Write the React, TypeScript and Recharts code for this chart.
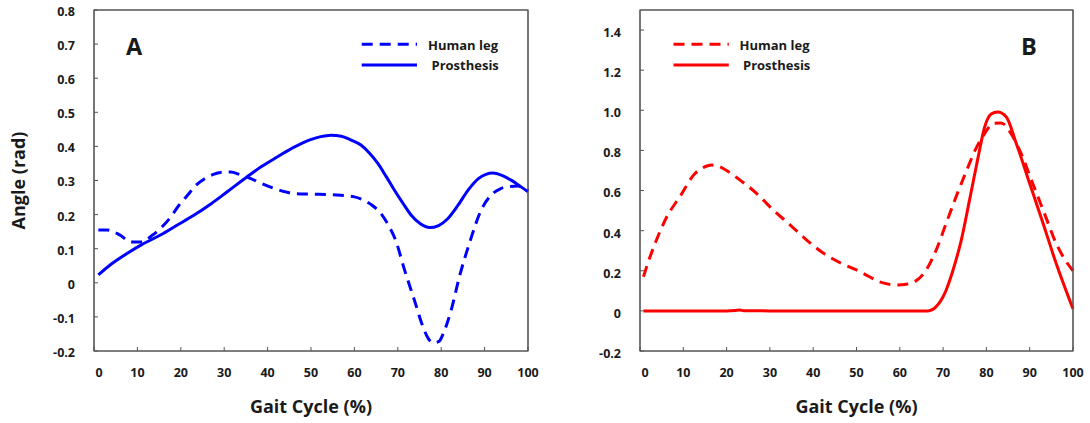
import React from 'react';
import { LineChart, Line, XAxis, YAxis, ReferenceArea } from 'recharts';

// ---------- Data ----------
const gaitTicks = [0, 10, 20, 30, 40, 50, 60, 70, 80, 90, 100];
const innerGaitTicks = [10, 20, 30, 40, 50, 60, 70, 80, 90];

const angleTicksA = [-0.2, -0.1, 0, 0.1, 0.2, 0.3, 0.4, 0.5, 0.6, 0.7, 0.8];
const angleLabelsA = ['-0.2', '-0.1', '0', '0.1', '0.2', '0.3', '0.4', '0.5', '0.6', '0.7', '0.8'];
const angleTicksB = [-0.2, 0, 0.2, 0.4, 0.6, 0.8, 1.0, 1.2, 1.4];
const angleLabelsB = ['-0.2', '0', '0.2', '0.4', '0.6', '0.8', '1.0', '1.2', '1.4'];

const seriesNames = ['Human leg', 'Prosthesis'];

// Panel A – human leg (dashed)
const humanA_x = [1, 3, 6, 8.5, 11, 13.5, 15.5, 17.5, 19.5, 21.5, 23.5, 25.5, 27.5, 29.5, 31.5, 33.5, 36, 38.5, 41.5, 44, 46, 50, 55, 60, 62, 64, 66, 68, 69.5, 71.5, 73.8, 75.8, 77, 78.2, 79.5, 80.5, 82.3, 84.2, 86.5, 89.2, 91.9, 93.5, 95.4, 97.7, 100];
const humanA_y = [0.155, 0.155, 0.14, 0.12, 0.12, 0.14, 0.162, 0.19, 0.226, 0.256, 0.286, 0.305, 0.318, 0.324, 0.325, 0.318, 0.306, 0.292, 0.277, 0.267, 0.262, 0.26, 0.258, 0.252, 0.243, 0.228, 0.205, 0.165, 0.125, 0.04, -0.05, -0.129, -0.163, -0.176, -0.172, -0.148, -0.08, 0.018, 0.116, 0.213, 0.262, 0.275, 0.282, 0.284, 0.27];

// Panel A – prosthesis (solid)
const prosA_x = [1, 4, 7.6, 11, 15.3, 19, 23, 27, 30.7, 35.3, 38.5, 42.2, 46, 49.9, 52, 54.6, 57, 59, 61.5, 63.5, 65.4, 67.3, 69.2, 71.2, 73.1, 75.2, 77.3, 79.4, 81.5, 83.8, 86.2, 88.5, 90.3, 91.9, 94, 96.1, 98, 100];
const prosA_y = [0.023, 0.055, 0.086, 0.112, 0.14, 0.168, 0.198, 0.232, 0.267, 0.311, 0.34, 0.369, 0.397, 0.42, 0.428, 0.433, 0.43, 0.42, 0.404, 0.38, 0.35, 0.312, 0.272, 0.233, 0.198, 0.173, 0.162, 0.168, 0.188, 0.226, 0.272, 0.305, 0.318, 0.322, 0.315, 0.301, 0.285, 0.267];

// Panel B – human leg (dashed)
const humanB_x = [0.8, 2, 3.5, 6.2, 9.2, 12.7, 14.5, 16.5, 18, 19.2, 23.1, 26.9, 30.8, 34.7, 38.5, 42.4, 46.2, 50, 53, 55.3, 57.5, 59.5, 61.5, 63.4, 66.1, 68.4, 70.7, 73, 75.3, 77.6, 79.6, 81.5, 83.4, 85.7, 88, 90.7, 93.4, 96.1, 98, 100];
const humanB_y = [0.17, 0.25, 0.337, 0.469, 0.569, 0.685, 0.713, 0.727, 0.722, 0.71, 0.652, 0.586, 0.502, 0.428, 0.353, 0.287, 0.24, 0.204, 0.17, 0.145, 0.133, 0.129, 0.133, 0.145, 0.204, 0.303, 0.436, 0.569, 0.693, 0.81, 0.884, 0.934, 0.937, 0.884, 0.785, 0.635, 0.486, 0.337, 0.26, 0.2];

// Panel B – prosthesis (solid)
const prosB_x = [0.8, 10, 20, 22, 23, 24, 30, 40, 50, 60, 66.5, 68.4, 70.4, 72.3, 74.2, 76.1, 78.1, 79.6, 81.1, 82.6, 84.6, 86.9, 90, 93.1, 96.1, 100];
const prosB_y = [0, 0, 0, 0.002, 0.004, 0.001, 0, 0, 0, 0, 0, 0.021, 0.088, 0.204, 0.353, 0.552, 0.768, 0.917, 0.981, 0.992, 0.967, 0.835, 0.635, 0.436, 0.237, 0.01];

// merge two series (different x samples) into one table for the chart
const merge = (hx: number[], hy: number[], px: number[], py: number[]) => {
  const map = new Map<number, { x: number; human?: number; pros?: number }>();
  hx.forEach((x, i) => { const r = map.get(x) || { x }; r.human = hy[i]; map.set(x, r); });
  px.forEach((x, i) => { const r = map.get(x) || { x }; r.pros = py[i]; map.set(x, r); });
  return Array.from(map.values()).sort((a, b) => a.x - b.x);
};

// ---------- Styles ----------
const FONT = "'Open Sans', 'Noto Sans', sans-serif";
const AXIS = '#555555';
const TEXT = '#1a1a1a';
const BLUE = '#0000ff';
const RED = '#ff0000';
const DASH = '11 7';

const makeXTick = () => (props: any) => {
  const { x, y, payload } = props;
  const shift = payload.value === 0 ? 5 : 0;
  return (
    <text x={x + shift} y={y} dy="0.71em" textAnchor="middle" fontFamily={FONT} fontWeight={700} fontSize={12.5} fill={TEXT}>
      {payload.value}
    </text>
  );
};

const makeYTick = (ticks: number[], labels: string[], dyShift: number) => (props: any) => {
  const { x, y, payload } = props;
  const idx = ticks.findIndex((t) => Math.abs(t - payload.value) < 1e-9);
  const label = idx >= 0 ? labels[idx] : String(payload.value);
  return (
    <text x={x} y={y + dyShift} dy="0.355em" textAnchor="end" fontFamily={FONT} fontWeight={700} fontSize={12.5} fill={TEXT}>
      {label}
    </text>
  );
};

const LegendOverlay = ({ color, lx, tx, letter, letterX }: { color: string; lx: number; tx: number; letter: string; letterX: number }) => (
  <svg width={545} height={423} style={{ position: 'absolute', left: 0, top: 0, pointerEvents: 'none' }}>
    <line x1={lx} y1={44.3} x2={lx + 55.3} y2={44.3} stroke={color} strokeWidth={3} strokeDasharray={DASH} />
    <line x1={lx} y1={65} x2={lx + 55.3} y2={65} stroke={color} strokeWidth={3} />
    <text x={tx} y={50.3} fontFamily={FONT} fontWeight={700} fontSize={13} fill={TEXT}>{seriesNames[0]}</text>
    <text x={tx + 3.5} y={70} fontFamily={FONT} fontWeight={700} fontSize={13} fill={TEXT}>{seriesNames[1]}</text>
    <text x={letterX} y={55} textAnchor="middle" fontFamily={FONT} fontWeight={700} fontSize={23.5} fill={TEXT}>{letter}</text>
  </svg>
);

type PanelProps = {
  data: { x: number; human?: number; pros?: number }[];
  color: string;
  yDomain: [number, number];
  yTicks: number[];
  yLabels: string[];
  yAxisWidth: number;
  yDy: number;
  showYLabel: boolean;
};

const Panel = ({ data, color, yDomain, yTicks, yLabels, yAxisWidth, yDy, showYLabel }: PanelProps) => (
  <LineChart width={545} height={423} data={data} margin={{ top: 9, right: 16, left: 0, bottom: 0 }}>
    <XAxis
      dataKey="x"
      type="number"
      domain={[0, 100]}
      ticks={gaitTicks}
      height={72}
      stroke={AXIS}
      tickSize={-4}
      tickMargin={21}
      tick={makeXTick()}
      label={{ value: 'Gait Cycle (%)', position: 'insideBottom', offset: 10, fontFamily: FONT, fontWeight: 700, fontSize: 18, fill: TEXT }}
    />
    <XAxis
      xAxisId="t"
      orientation="top"
      dataKey="x"
      type="number"
      domain={[0, 100]}
      ticks={innerGaitTicks}
      height={1}
      stroke={AXIS}
      tickSize={-4}
      tick={false}
    />
    <YAxis
      type="number"
      domain={yDomain}
      ticks={yTicks}
      width={yAxisWidth}
      stroke={AXIS}
      tickSize={-4}
      tickMargin={23}
      tick={makeYTick(yTicks, yLabels, yDy)}
      label={
        showYLabel
          ? { value: 'Angle (rad)', angle: -90, position: 'insideLeft', offset: 19, fontFamily: FONT, fontWeight: 700, fontSize: 18, fill: TEXT, style: { textAnchor: 'middle' } }
          : undefined
      }
    />
    <YAxis
      yAxisId="r"
      orientation="right"
      type="number"
      domain={yDomain}
      ticks={yTicks}
      width={1}
      stroke={AXIS}
      tickSize={-4}
      tick={false}
    />
    <ReferenceArea x1={0} x2={100} y1={yDomain[0]} y2={yDomain[1]} fill="none" fillOpacity={0} stroke={AXIS} strokeWidth={1.2} ifOverflow="visible" />
    <Line dataKey="pros" name={seriesNames[1]} type="monotone" connectNulls stroke={color} strokeWidth={3} dot={false} activeDot={false} isAnimationActive={false} />
    <Line dataKey="human" name={seriesNames[0]} type="monotone" connectNulls stroke={color} strokeWidth={3} strokeDasharray={DASH} dot={false} activeDot={false} isAnimationActive={false} />
  </LineChart>
);

export default function App() {
  return (
    <div style={{ position: 'absolute', left: 0, top: 0, width: 1090, height: 423 }}>
      <div style={{ position: 'absolute', left: 0, top: 0, width: 545, height: 423 }}>
        <Panel
          data={merge(humanA_x, humanA_y, prosA_x, prosA_y)}
          color={BLUE}
          yDomain={[-0.2, 0.8]}
          yTicks={angleTicksA}
          yLabels={angleLabelsA}
          yAxisWidth={94}
          yDy={1.5}
          showYLabel
        />
        <LegendOverlay color={BLUE} lx={361.7} tx={428} letter="A" letterX={134} />
      </div>
      <div style={{ position: 'absolute', left: 545, top: 0, width: 545, height: 423 }}>
        <Panel
          data={merge(humanB_x, humanB_y, prosB_x, prosB_y)}
          color={RED}
          yDomain={[-0.2, 1.5]}
          yTicks={angleTicksB}
          yLabels={angleLabelsB}
          yAxisWidth={95}
          yDy={2.5}
          showYLabel={false}
        />
        <LegendOverlay color={RED} lx={128.5} tx={194.5} letter="B" letterX={484} />
      </div>
    </div>
  );
}
